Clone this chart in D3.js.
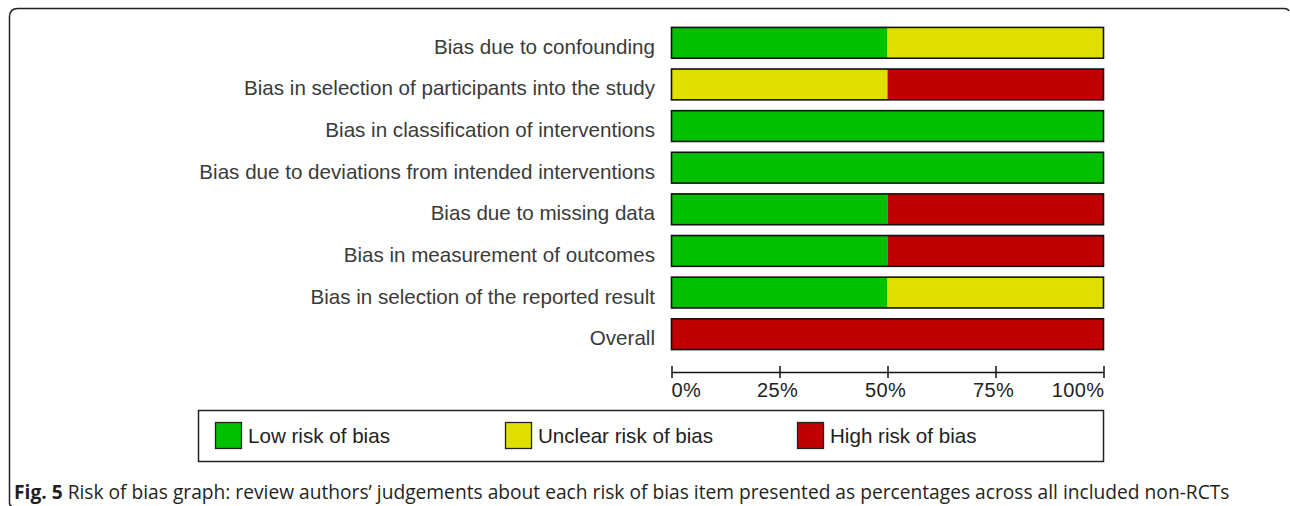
<!DOCTYPE html>
<html><head><meta charset="utf-8">
<script src="https://cdn.jsdelivr.net/npm/d3@7"></script>
<style>body{margin:0;background:#fff}svg{display:block}</style>
</head><body>
<svg id="c" width="1290" height="506"></svg>
<script>
const categories = [
  "Bias due to confounding",
  "Bias in selection of participants into the study",
  "Bias in classification of interventions",
  "Bias due to deviations from intended interventions",
  "Bias due to missing data",
  "Bias in measurement of outcomes",
  "Bias in selection of the reported result",
  "Overall"
];
const lowRisk     = [50, 0, 100, 100, 50, 50, 50, 0];
const unclearRisk = [50, 50, 0, 0, 0, 0, 50, 0];
const highRisk    = [0, 50, 0, 0, 50, 50, 0, 100];
const tickValues = [0, 25, 50, 75, 100];
const tickLabels = ["0%", "25%", "50%", "75%", "100%"];
const seriesNames = ["Low risk of bias", "Unclear risk of bias", "High risk of bias"];
const seriesColors = ["#00c000", "#e0e000", "#c00000"];
const captionBold = "Fig. 5";
const captionText = " Risk of bias graph: review authors’ judgements about each risk of bias item presented as percentages across all included non-RCTs";

const svg = d3.select("#c");
const FONT = "Liberation Sans, Arial, sans-serif";

// frame (top + left with rounded top-left corner)
svg.append("path")
  .attr("d", "M9.5,503 Q9.5,506 12,506 M9.5,503 L9.5,17 Q9.5,8.5 18,8.5 L1284,8.5 Q1288,8.5 1289,11")
  .attr("fill", "none").attr("stroke", "#222").attr("stroke-width", 1.5);

const x = d3.scaleLinear().domain([0, 100]).range([671.5, 1103.5]);
const y = d3.scaleBand().domain(categories).range([22, 355]).paddingInner(0.26).paddingOuter(0.13);

const rows = categories.map((c, i) => ({c, v: [lowRisk[i], unclearRisk[i], highRisk[i]]}));
const stack = d3.stack().keys([0, 1, 2]).value((d, k) => d.v[k])(rows);

const g = svg.append("g");
g.selectAll("g.s").data(stack).join("g").attr("class", "s")
  .attr("fill", (d, i) => seriesColors[i])
  .selectAll("rect").data(d => d.filter(p => p[1] > p[0])).join("rect")
  .attr("x", d => x(d[0])).attr("width", d => x(d[1]) - x(d[0]))
  .attr("y", d => y(d.data.c)).attr("height", y.bandwidth());

g.selectAll("rect.o").data(categories).join("rect").attr("class", "o")
  .attr("x", x(0)).attr("width", x(100) - x(0))
  .attr("y", d => y(d)).attr("height", y.bandwidth())
  .attr("fill", "none").attr("stroke", "#111").attr("stroke-width", 1.6);

g.selectAll("text.cat").data(categories).join("text").attr("class", "cat")
  .attr("x", 655).attr("y", d => y(d) + y.bandwidth() / 2 + 11)
  .attr("text-anchor", "end")
  .attr("font-family", FONT).attr("font-size", 20.6)
  .attr("fill", "#3a3a3a").text(d => d);

// axis
const axisY = 372;
const ax = svg.append("g").attr("transform", `translate(0,${axisY})`)
  .call(d3.axisBottom(x).tickValues(tickValues).tickSize(6).tickSizeOuter(0).tickFormat(""));
ax.select(".domain").attr("stroke", "#111").attr("stroke-width", 1.5);
ax.selectAll(".tick line").attr("stroke", "#111").attr("stroke-width", 1.5).attr("y1", -6).attr("y2", 6);
svg.selectAll("text.tk").data(tickValues).join("text").attr("class", "tk")
  .attr("x", (d, i) => i === 0 ? x(d) : i === tickValues.length - 1 ? x(d) + 1 : x(d) - 2)
  .attr("y", 397)
  .attr("text-anchor", (d, i) => i === 0 ? "start" : i === tickValues.length - 1 ? "end" : "middle")
  .attr("font-family", FONT).attr("font-size", 20)
  .attr("letter-spacing", 0.4).attr("fill", "#222")
  .text((d, i) => tickLabels[i]);

// legend
svg.append("rect").attr("x", 198.5).attr("y", 410.5).attr("width", 905).attr("height", 51)
  .attr("fill", "none").attr("stroke", "#222").attr("stroke-width", 1.5);
const legX = [215, 505, 797];
const lg = svg.selectAll("g.lg").data(seriesNames).join("g").attr("class", "lg")
  .attr("transform", (d, i) => `translate(${legX[i]},422)`);
lg.append("rect").attr("x", 0.5).attr("y", 0.5).attr("width", 26).attr("height", 26)
  .attr("fill", (d, i) => seriesColors[i]).attr("stroke", "#222").attr("stroke-width", 1.3);
lg.append("text").attr("x", 33).attr("y", 21)
  .attr("font-family", FONT).attr("font-size", 20.6)
  .attr("fill", "#222").text(d => d);

// caption
const cap = svg.append("text").attr("x", 14).attr("y", 499)
  .attr("font-family", "Open Sans, Noto Sans, sans-serif").attr("font-size", 19.2).attr("fill", "#231f20");
cap.append("tspan").attr("font-weight", "bold").text(captionBold);
cap.append("tspan").text(captionText);
</script>
</body></html>
